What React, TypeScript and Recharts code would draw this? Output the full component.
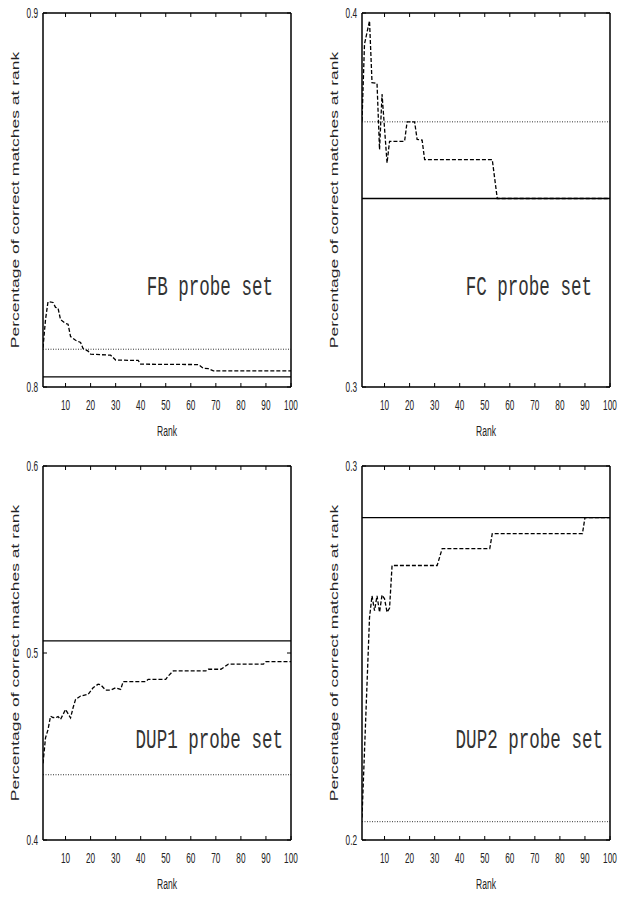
import React from 'react';
import { LineChart, Line, XAxis, YAxis, ReferenceLine } from 'recharts';

// rank ticks shared by every panel
const rankTicks = [10, 20, 30, 40, 50, 60, 70, 80, 90, 100];
const topTicks = [10, 20, 30, 40, 50, 60, 70, 80, 90];

// FB probe set
const fbRanks = [1, 2, 3, 5, 6, 7, 8, 10, 11, 12, 14, 16, 17, 19, 20, 28, 30, 39, 40, 63, 65, 67, 69, 100];
const fbRates = [0.8105, 0.818, 0.8228, 0.8226, 0.8213, 0.8211, 0.818, 0.817, 0.8168, 0.8135, 0.8125, 0.8119, 0.8103, 0.8096, 0.8088, 0.8085, 0.8072, 0.8071, 0.8061, 0.806, 0.805, 0.8049, 0.8043, 0.8043];
const fbSolid = 0.8027;
const fbDotted = 0.8101;

// FC probe set
const fcRanks = [1, 2, 3, 4, 5, 7, 8, 9, 11, 12, 18, 19, 22, 23, 25, 26, 53, 55, 100];
const fcRates = [0.3711, 0.3917, 0.3948, 0.3979, 0.3814, 0.3812, 0.3635, 0.3783, 0.3599, 0.3657, 0.3657, 0.3709, 0.3709, 0.3662, 0.366, 0.3608, 0.3608, 0.3504, 0.3504];
const fcSolid = 0.3504;
const fcDotted = 0.3709;

// DUP1 probe set
const dup1Ranks = [1, 2, 3, 4, 5, 6, 7, 8, 10, 12, 13, 14, 16, 19, 21, 23, 24, 26, 28, 30, 32, 33, 42, 43, 50, 51, 53, 66, 67, 72, 75, 89, 90, 100];
const dup1Rates = [0.441, 0.4546, 0.459, 0.4662, 0.4655, 0.4653, 0.466, 0.4645, 0.4698, 0.4653, 0.4707, 0.4752, 0.477, 0.4779, 0.4814, 0.4833, 0.483, 0.4802, 0.4802, 0.4814, 0.4805, 0.4847, 0.4847, 0.4859, 0.4859, 0.4877, 0.4904, 0.4904, 0.4913, 0.4913, 0.494, 0.494, 0.4954, 0.4954];
const dup1Solid = 0.5065;
const dup1Dotted = 0.4349;

// DUP2 probe set
const dup2Ranks = [1, 4, 5, 6, 7, 8, 9, 10, 11, 12, 13, 31, 33, 52, 53, 89, 90, 100];
const dup2Rates = [0.206, 0.2595, 0.2653, 0.2613, 0.2653, 0.2609, 0.2655, 0.2645, 0.2609, 0.262, 0.2734, 0.2734, 0.2779, 0.2779, 0.2819, 0.2819, 0.2862, 0.2862];
const dup2Solid = 0.2862;
const dup2Dotted = 0.2049;

const sansFont = '"Liberation Sans", Arial, sans-serif';
const squeeze = 0.55;

const BottomTick = (props: any) => {
  const { x, y, payload } = props;
  return (
    <g>
      <line x1={x} y1={y} x2={x} y2={y - 4} stroke="#000" />
      <g transform={`translate(${x},${y + 18}) scale(${squeeze},1)`}>
        <text textAnchor="middle" dominantBaseline="central" fontSize={15} fill="#222" fontFamily={sansFont}>
          {payload.value}
        </text>
      </g>
    </g>
  );
};

const TopTick = (props: any) => {
  const { x, y } = props;
  return <line x1={x} y1={y} x2={x} y2={y + 4} stroke="#000" />;
};

const LeftTick = (props: any) => {
  const { x, y, payload } = props;
  return (
    <g>
      <line x1={x} y1={y} x2={x + 4} y2={y} stroke="#000" />
      <g transform={`translate(${x - 5},${y}) scale(${squeeze},1)`}>
        <text textAnchor="end" dominantBaseline="central" fontSize={15} fill="#222" fontFamily={sansFont}>
          {payload.value}
        </text>
      </g>
    </g>
  );
};

const RightTick = (props: any) => {
  const { x, y } = props;
  return <line x1={x} y1={y} x2={x - 4} y2={y} stroke="#000" />;
};

interface PanelProps {
  left: number;
  top: number;
  ranks: number[];
  rates: number[];
  solid: number;
  dotted: number;
  yDomain: [number, number];
  yTicks: number[];
  title: string;
  titleX: number;
}

const Panel: React.FC<PanelProps> = ({ left, top, ranks, rates, solid, dotted, yDomain, yTicks, title, titleX }) => {
  const data = ranks.map((rank, i) => ({ rank, rate: rates[i] }));
  const box = { stroke: '#000', strokeWidth: 1.5 };

  return (
    <div style={{ position: 'absolute', left, top }}>
      <LineChart width={300} height={444} data={data} margin={{ top: 12, right: 8, bottom: 7, left: 0 }}>
        <XAxis
          dataKey="rank"
          type="number"
          domain={[1, 100]}
          ticks={rankTicks}
          interval={0}
          height={50}
          tickSize={0}
          tickMargin={0}
          tickLine={false}
          axisLine={box}
          tick={<BottomTick />}
          allowDataOverflow
        />
        <XAxis
          xAxisId="t"
          orientation="top"
          dataKey="rank"
          type="number"
          domain={[1, 100]}
          ticks={topTicks}
          interval={0}
          height={1}
          tickSize={0}
          tickMargin={0}
          tickLine={false}
          axisLine={box}
          tick={<TopTick />}
          allowDataOverflow
        />
        <YAxis
          type="number"
          domain={yDomain}
          ticks={yTicks}
          interval={0}
          width={43}
          tickSize={0}
          tickMargin={0}
          tickLine={false}
          axisLine={box}
          tick={<LeftTick />}
          allowDataOverflow
        />
        <YAxis
          yAxisId="r"
          orientation="right"
          type="number"
          domain={yDomain}
          ticks={yTicks}
          interval={0}
          width={1}
          tickSize={0}
          tickMargin={0}
          tickLine={false}
          axisLine={box}
          tick={<RightTick />}
          allowDataOverflow
        />
        <ReferenceLine y={dotted} stroke="#333" strokeWidth={1} strokeDasharray="1 1.5" />
        <ReferenceLine y={solid} stroke="#000" strokeWidth={1.3} />
        <Line
          dataKey="rate"
          type="linear"
          stroke="#000"
          strokeWidth={1.3}
          strokeDasharray="4 2"
          dot={false}
          isAnimationActive={false}
        />
        <g transform="translate(18.5,200) rotate(-90) scale(1,0.62)">
          <text textAnchor="middle" fontSize={17.5} fill="#222" fontFamily={sansFont}>
            Percentage of correct matches at rank
          </text>
        </g>
        <g transform="translate(167,431) scale(0.57,1)">
          <text textAnchor="middle" dominantBaseline="central" fontSize={15} fill="#222" fontFamily={sansFont}>
            Rank
          </text>
        </g>
        <g transform={`translate(${titleX},295) scale(0.65,1)`}>
          <text textAnchor="end" fontSize={27} fill="#333" fontFamily='"Liberation Mono", "Courier New", monospace'>
            {title}
          </text>
        </g>
      </LineChart>
    </div>
  );
};

export default function App() {
  return (
    <div style={{ position: 'absolute', left: 0, top: 0, width: 621, height: 897, background: '#fff', overflow: 'hidden' }}>
      <Panel left={0} top={0} ranks={fbRanks} rates={fbRates} solid={fbSolid} dotted={fbDotted}
        yDomain={[0.8, 0.9]} yTicks={[0.8, 0.9]} title="FB probe set" titleX={273} />
      <Panel left={319} top={0} ranks={fcRanks} rates={fcRates} solid={fcSolid} dotted={fcDotted}
        yDomain={[0.3, 0.4]} yTicks={[0.3, 0.4]} title="FC probe set" titleX={273} />
      <Panel left={0} top={453} ranks={dup1Ranks} rates={dup1Rates} solid={dup1Solid} dotted={dup1Dotted}
        yDomain={[0.4, 0.6]} yTicks={[0.4, 0.5, 0.6]} title="DUP1 probe set" titleX={283} />
      <Panel left={319} top={453} ranks={dup2Ranks} rates={dup2Rates} solid={dup2Solid} dotted={dup2Dotted}
        yDomain={[0.2, 0.3]} yTicks={[0.2, 0.3]} title="DUP2 probe set" titleX={284} />
    </div>
  );
}
